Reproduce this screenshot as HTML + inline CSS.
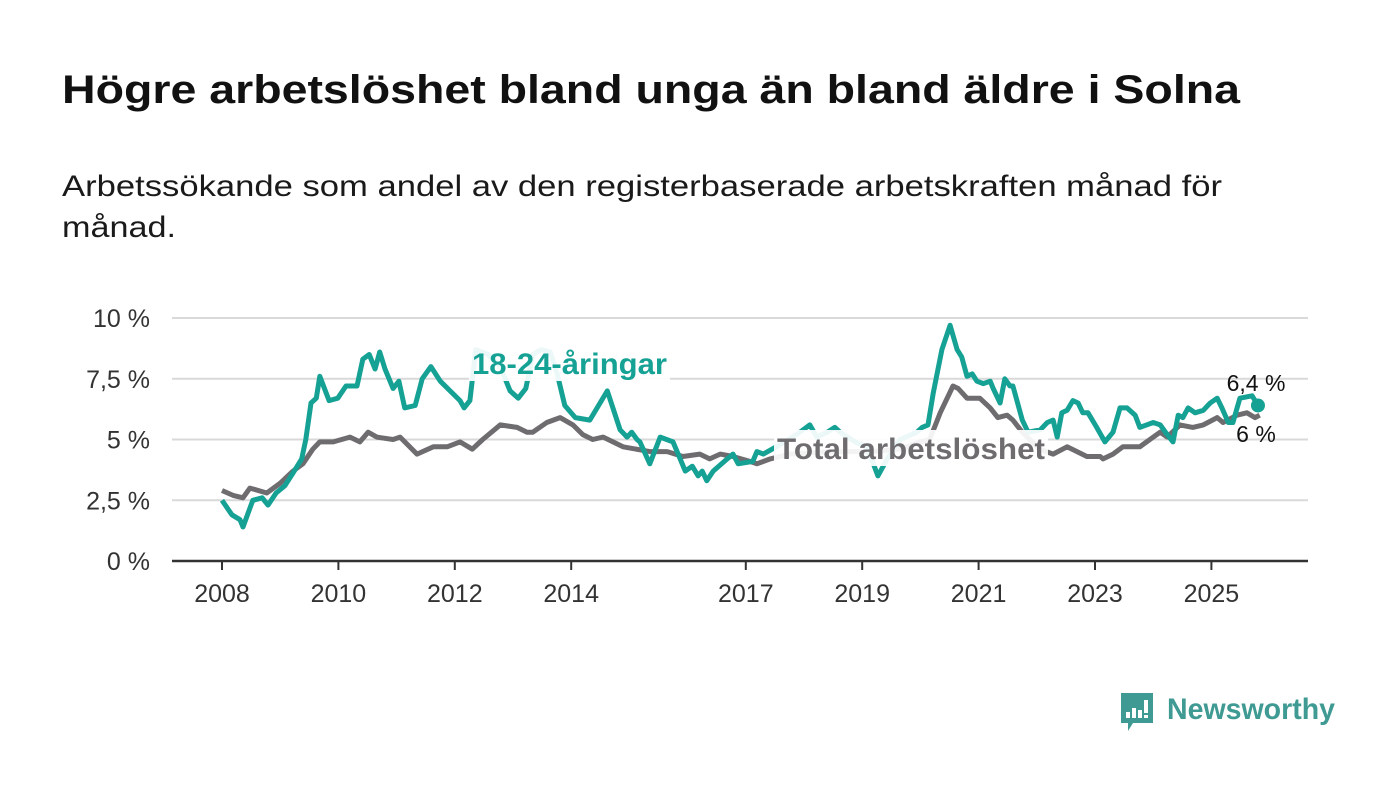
<!DOCTYPE html>
<html><head><meta charset="utf-8"><style>
html,body{margin:0;padding:0;background:#fff;}
svg{display:block;font-family:"Liberation Sans",sans-serif;}
</style></head><body>
<svg id="chart" width="1400" height="794" viewBox="0 0 1400 794">
<text x="62" y="103" font-size="40" font-weight="bold" fill="#111" textLength="1178" lengthAdjust="spacingAndGlyphs">Högre arbetslöshet bland unga än bland äldre i Solna</text>
<text x="62" y="196" font-size="30" fill="#1a1a1a" textLength="1160" lengthAdjust="spacingAndGlyphs">Arbetssökande som andel av den registerbaserade arbetskraften månad för</text>
<text x="62" y="237" font-size="30" fill="#1a1a1a" textLength="114" lengthAdjust="spacingAndGlyphs">månad.</text>
<g id="grid"></g>
<g id="xaxis"></g>
<g id="series"></g>
<g id="labels"></g>
<g>
<path d="M1121 693 h32 v30 h-20 l-5 8 v-8 h-7 z" fill="#3f9a93"/>
<rect x="1126" y="712" width="4" height="6" fill="#fff"/>
<rect x="1132" y="708" width="4" height="10" fill="#fff"/>
<rect x="1138" y="710" width="4" height="8" fill="#fff"/>
<rect x="1144" y="700" width="4" height="13" fill="#fff"/>
<rect x="1144" y="715" width="4" height="3" fill="#fff"/>
<text x="1167" y="719" font-size="30" font-weight="bold" fill="#3f9a93" textLength="168" lengthAdjust="spacingAndGlyphs">Newsworthy</text>
</g>
</svg>
<script>
const yTicks = [0, 2.5, 5, 7.5, 10];
const yTickLabels = ["0 %", "2,5 %", "5 %", "7,5 %", "10 %"];
const xTicks = [2008, 2010, 2012, 2014, 2017, 2019, 2021, 2023, 2025];
const youthDates = [2008.00,2008.17,2008.31,2008.36,2008.53,2008.69,2008.79,2008.93,2009.08,2009.24,2009.37,2009.44,2009.53,2009.62,2009.68,2009.84,2009.99,2010.13,2010.32,2010.42,2010.53,2010.63,2010.71,2010.80,2010.94,2011.04,2011.14,2011.32,2011.44,2011.59,2011.75,2011.92,2012.09,2012.16,2012.26,2012.36,2012.57,2012.78,2012.95,2013.09,2013.22,2013.34,2013.48,2013.64,2013.76,2013.89,2014.07,2014.32,2014.62,2014.84,2014.96,2015.04,2015.13,2015.18,2015.35,2015.53,2015.75,2015.96,2016.08,2016.18,2016.25,2016.33,2016.44,2016.68,2016.78,2016.87,2017.12,2017.19,2017.30,2017.45,2017.67,2017.93,2018.10,2018.22,2018.40,2018.53,2018.62,2018.88,2019.08,2019.27,2019.43,2019.65,2019.94,2020.03,2020.13,2020.22,2020.37,2020.51,2020.63,2020.71,2020.80,2020.89,2020.97,2021.08,2021.20,2021.25,2021.37,2021.45,2021.54,2021.59,2021.75,2021.85,2022.06,2022.18,2022.28,2022.35,2022.43,2022.52,2022.62,2022.71,2022.79,2022.88,2023.03,2023.17,2023.31,2023.43,2023.55,2023.69,2023.77,2024.00,2024.12,2024.24,2024.34,2024.43,2024.51,2024.60,2024.72,2024.86,2024.98,2025.10,2025.18,2025.29,2025.37,2025.49,2025.70,2025.80];
const youthValues = [2.5,1.9,1.7,1.4,2.5,2.6,2.3,2.8,3.1,3.7,4.2,5.0,6.5,6.7,7.6,6.6,6.7,7.2,7.2,8.3,8.5,7.9,8.6,7.9,7.1,7.4,6.3,6.4,7.5,8.0,7.4,7.0,6.6,6.3,6.6,8.7,8.5,8.0,7.0,6.7,7.1,8.5,8.7,8.6,7.7,6.4,5.9,5.8,7.0,5.4,5.1,5.3,5.0,4.9,4.0,5.1,4.9,3.7,3.9,3.5,3.7,3.3,3.7,4.2,4.4,4.0,4.1,4.5,4.4,4.6,4.9,5.3,5.6,5.1,5.3,5.5,5.3,4.9,4.7,3.5,4.2,5.0,5.3,5.5,5.6,6.9,8.7,9.7,8.7,8.4,7.6,7.7,7.4,7.3,7.4,7.1,6.5,7.5,7.2,7.2,5.8,5.3,5.4,5.7,5.8,5.1,6.1,6.2,6.6,6.5,6.1,6.1,5.5,4.9,5.3,6.3,6.3,6.0,5.5,5.7,5.6,5.2,4.9,6.0,5.9,6.3,6.1,6.2,6.5,6.7,6.3,5.7,5.7,6.7,6.8,6.4];
const totalDates = [2008.00,2008.19,2008.36,2008.48,2008.77,2009.00,2009.22,2009.39,2009.56,2009.68,2009.91,2010.20,2010.37,2010.51,2010.66,2010.94,2011.06,2011.35,2011.63,2011.87,2012.09,2012.30,2012.48,2012.78,2013.07,2013.24,2013.34,2013.58,2013.81,2014.03,2014.20,2014.37,2014.55,2014.89,2015.35,2015.65,2015.92,2016.21,2016.38,2016.56,2016.78,2017.07,2017.19,2017.42,2017.76,2018.45,2019.13,2019.65,2019.99,2020.16,2020.34,2020.56,2020.65,2020.80,2021.02,2021.20,2021.33,2021.49,2021.59,2021.75,2022.05,2022.28,2022.52,2022.86,2023.09,2023.14,2023.31,2023.48,2023.77,2024.00,2024.12,2024.24,2024.46,2024.68,2024.86,2025.10,2025.20,2025.44,2025.61,2025.75,2025.83];
const totalValues = [2.9,2.7,2.6,3.0,2.8,3.2,3.7,4.0,4.6,4.9,4.9,5.1,4.9,5.3,5.1,5.0,5.1,4.4,4.7,4.7,4.9,4.6,5.0,5.6,5.5,5.3,5.3,5.7,5.9,5.6,5.2,5.0,5.1,4.7,4.5,4.5,4.3,4.4,4.2,4.4,4.3,4.1,4.0,4.2,4.4,4.5,4.5,4.6,4.9,5.0,6.1,7.2,7.1,6.7,6.7,6.3,5.9,6.0,5.8,5.3,4.6,4.4,4.7,4.3,4.3,4.2,4.4,4.7,4.7,5.1,5.3,5.1,5.6,5.5,5.6,5.9,5.7,6.0,6.1,5.9,6.0];
const youthLast = "6,4 %";
const totalLast = "6 %";

const NS = "http://www.w3.org/2000/svg";
const X0 = 172, X1 = 1308, Y0 = 561, Y1 = 318;
function xScale(yr){ return 222 + (yr - 2008) * 58.2; }
function yScale(v){ return Y0 - (v / 10) * (Y0 - Y1); }
function mk(tag, attrs, parent){ const e = document.createElementNS(NS, tag); for (const k in attrs) e.setAttribute(k, attrs[k]); parent.appendChild(e); return e; }

const grid = document.getElementById('grid');
yTicks.forEach((t, i) => {
  if (t > 0) {
    const g = mk('line', {x1:X0, x2:X1, y1:yScale(t), y2:yScale(t), stroke:'#d9d9d9', 'stroke-width':2}, grid);
    
    
  }
  const l = mk('text', {x:150, y:yScale(t)+9, 'text-anchor':'end', 'font-size':25, fill:'#333'}, grid);
  l.textContent = yTickLabels[i];
  
  
});
const xa = document.getElementById('xaxis');
const ax = mk('line', {x1:X0, x2:X1, y1:Y0, y2:Y0, stroke:'#333', 'stroke-width':2.5}, xa);


xTicks.forEach(t => {
  const tk = mk('line', {x1:xScale(t), x2:xScale(t), y1:Y0, y2:Y0+9, stroke:'#333', 'stroke-width':2}, xa);
  
  
  const l = mk('text', {x:xScale(t), y:602, 'text-anchor':'middle', 'font-size':25, fill:'#333'}, xa);
  l.textContent = t;
  
  
});
const sg = document.getElementById('series');
function pts(d, v){ return d.map((x, i) => xScale(x).toFixed(1) + ',' + yScale(v[i]).toFixed(1)).join(' '); }
const tl = mk('polyline', {points:pts(totalDates, totalValues), fill:'none', stroke:'#6f6c70', 'stroke-width':5, 'stroke-linejoin':'round'}, sg);


const yl = mk('polyline', {points:pts(youthDates, youthValues), fill:'none', stroke:'#16a195', 'stroke-width':5, 'stroke-linejoin':'round'}, sg);


const n = youthDates.length - 1;
const dot = mk('circle', {cx:xScale(youthDates[n]), cy:yScale(youthValues[n]), r:7, fill:'#16a195'}, sg);



const lg = document.getElementById('labels');
function label(txt, x, y, size, color, bold, name, w){
  const r = mk('rect', {x:x-3, y:y-size+1, width:w+6, height:size+6, fill:'#fff', opacity:0.92}, lg);
  
  
  const t = mk('text', {x:x, y:y, 'font-size':size, fill:color, 'font-weight':bold?'bold':'normal', textLength:w, lengthAdjust:'spacingAndGlyphs'}, lg);
  t.textContent = txt;
  
  
}
label('18-24-åringar', 472, 374, 30, '#16a195', true, 'youth-series-label', 195);
label('Total arbetslöshet', 777, 459, 30, '#6f6c70', true, 'total-series-label', 268);
const e1 = mk('text', {x:1256, y:391, 'text-anchor':'middle', 'font-size':23, fill:'#111'}, lg);
e1.textContent = youthLast;


const e2 = mk('text', {x:1256, y:442, 'text-anchor':'middle', 'font-size':23, fill:'#111'}, lg);
e2.textContent = totalLast;


</script>
</body></html>
